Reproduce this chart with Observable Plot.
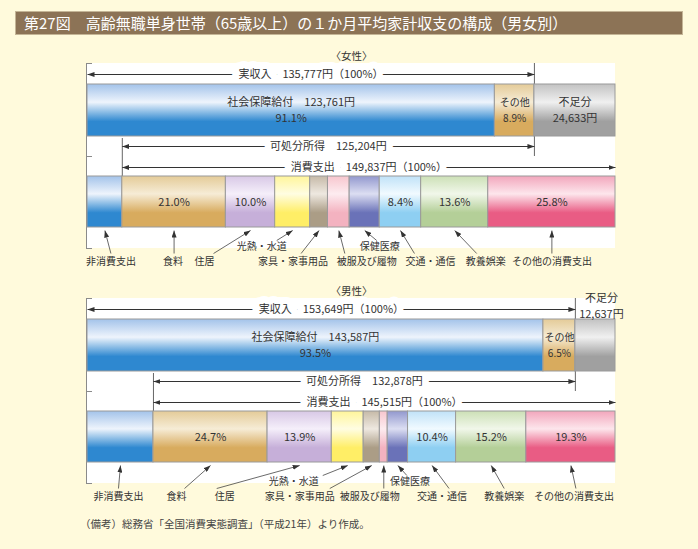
<!DOCTYPE html>
<html><head><meta charset="utf-8">
<script src="https://cdn.jsdelivr.net/npm/d3@7"></script>
<script src="https://cdn.jsdelivr.net/npm/@observablehq/plot@0.6"></script>
<style>
html,body{margin:0;padding:0;}
body{background:#fffadc;width:698px;height:549px;position:relative;overflow:hidden;font-family:"Noto Sans CJK JP","Noto Sans",sans-serif;color:#333;}
#title{position:absolute;left:15px;top:11px;width:668px;height:24px;background:#8c7356;border:1px solid #c4b596;box-sizing:border-box;color:#fff;font-size:15px;line-height:22px;padding-left:8px;white-space:nowrap;}
.chart{position:absolute;left:0;}
#female{top:48px;}
#male{top:283px;}
#note{position:absolute;left:80px;top:516px;font-size:10.5px;color:#444;white-space:nowrap;}
</style></head><body>
<svg width="0" height="0" style="position:absolute"><defs id="defs">
<marker id="tri" viewBox="0 0 7 5" refX="7" refY="2.5" markerWidth="7" markerHeight="5" markerUnits="userSpaceOnUse" orient="auto"><path d="M0,0L7,2.5L0,5z" fill="#333"/></marker>
</defs></svg>
<div id="title">第27図　高齢無職単身世帯（65歳以上）の１か月平均家計収支の構成（男女別）</div>
<div id="female" class="chart"></div>
<div id="male" class="chart"></div>
<div id="note">（備考）総務省「全国消費実態調査」（平成21年）より作成。</div>
<script>
// ---------- data ----------
const genderTitles = ["〈女性〉", "〈男性〉"];
const incomeSources = ["社会保障給付", "その他"];
const femaleIncomeValues = [123761, 12016];
const maleIncomeValues = [143587, 10062];
const femaleIncomePct = ["91.1%", "8.9%"];
const maleIncomePct = ["93.5%", "6.5%"];
const femaleIncome = 135777, maleIncome = 153649;
const femaleDeficit = 24633, maleDeficit = 12637;
const femaleDisposable = 125204, maleDisposable = 132878;
const femaleConsumption = 149837, maleConsumption = 145515;
const expenseCategories = ["食料", "住居", "光熱・水道", "家具・家事用品", "被服及び履物", "保健医療", "交通・通信", "教養娯楽", "その他の消費支出"];
const femaleExpensePct = [21.0, 10.0, 7.1, 3.6, 4.4, 6.1, 8.4, 13.6, 25.8];
const maleExpensePct = [24.7, 13.9, 6.9, 3.5, 1.7, 4.4, 10.4, 15.2, 19.3];
const femaleExpenseLabels = ["21.0%", "10.0%", "", "", "", "", "8.4%", "13.6%", "25.8%"];
const maleExpenseLabels = ["24.7%", "13.9%", "", "", "", "", "10.4%", "15.2%", "19.3%"];

// ---------- styling / layout ----------
const palette = {
  blue: ["#a3c3ea", "#eef4fc", "#2e88d0"],
  tan: ["#e4cb98", "#f6ecd6", "#d8ab5e"],
  gray: ["#c2c2c2", "#f0f0f0", "#a0a0a0"],
  purple: ["#d8c8e6", "#f5effa", "#c6afd9"],
  yellow: ["#fff59a", "#fffde2", "#ffee66"],
  khaki: ["#c6baa8", "#eee8e0", "#ab9d86"],
  lpink: ["#f7c6ce", "#fdecf0", "#f3b2c0"],
  indigo: ["#9298ce", "#dcdef2", "#6a72b8"],
  lblue: ["#c0e2f8", "#f1faff", "#8ecff2"],
  green: ["#cce0b6", "#f1f7ea", "#b4cf98"],
  pink: ["#f2a6bc", "#fde6ec", "#e95c84"]
};
const incomeGrads = ["blue", "tan"];
const expenseGrads = ["tan", "purple", "yellow", "khaki", "lpink", "indigo", "lblue", "green", "pink"];
const defs = d3.select("#defs");
for (const [id, [t, l, b]] of Object.entries(palette)) {
  const g = defs.append("linearGradient").attr("id", "g-" + id).attr("x1", 0).attr("y1", 0).attr("x2", 0).attr("y2", 1);
  [[0, t], [0.35, l], [0.72, b], [1, b]].forEach(([o, c]) => g.append("stop").attr("offset", o).attr("stop-color", c));
}

const W = 698, H = 230, ML = 87, MR = 83;
const L = {title: 8, panelTop: 15, incomeY: 26, top0: 36, top1: 88, dispY: 98, midTick: 108, consY: 119,
           bot0: 128, bot1: 179, panelBottom: 200, tipY: 182, row1: 198, row2: 213};
// label rows & pixel offsets for the category call-outs (非消費支出 + 9 categories)
const labelRow = [2, 2, 2, 1, 2, 2, 1, 2, 2, 2];
const femaleLabelDx = [6, -1, -46, -31, -26, 28, 15, 30, 31, 0];
const femaleTailDx = [0, 1, 9, 15, 8, -22, -3, -16, -9, 0];
const maleLabelDx = [-2, -34, -75, -54, -72, -14, 12, 10, 13, 3];
const maleTailDx = [0, 8, -8, 29, 30, 14, -3, 7, 0, 2];

const fmt = d3.format(",");

function chart(g) {
  const nonCons = g.income - g.disposable;
  const total = nonCons + g.consumption;
  const ppu = (W - ML - MR) / total;
  const u = p => p / ppu;
  let acc = 0;
  const top = g.incomeValues.map((v, i) => ({name: incomeSources[i], x1: acc, x2: (acc += v), grad: incomeGrads[i], pct: g.incomePct[i]}));
  top.push({name: "不足分", x1: acc, x2: acc + g.deficit, grad: "gray", deficit: true});
  top.forEach(d => {
    d.mid = (d.x1 + d.x2) / 2;
    d.line1 = d.deficit ? "不足分" : d.name === "社会保障給付" ? `${d.name}　${fmt(d.x2 - d.x1)}円` : d.name;
    d.line2 = d.deficit ? `${fmt(d.x2 - d.x1)}円` : d.pct;
    d.fs = (d.x2 - d.x1) * ppu < 40 ? 10 : 11;
  });
  acc = nonCons;
  const bot = [{name: "非消費支出", x1: 0, x2: nonCons, grad: "blue", label: ""}].concat(
    expenseCategories.map((c, i) => {
      const v = g.consumption * g.pct[i] / 100;
      return {name: c, x1: acc, x2: (acc += v), grad: expenseGrads[i], label: g.pctLabels[i]};
    }));
  bot.forEach((d, i) => {
    d.mid = (d.x1 + d.x2) / 2;
    d.lx = d.mid + u(g.labelDx[i]);
    d.tx = d.lx + u(g.tailDx[i]);
    d.ly = labelRow[i] === 1 ? L.row1 : L.row2;
    d.ty = d.ly - (labelRow[i] === 1 ? 6 : 8);
  });
  const dims = [
    {a: 0, b: g.income, y: L.incomeY, text: `実収入　${fmt(g.income)}円（100%）`},
    {a: nonCons, b: g.income, y: L.dispY, text: `可処分所得　${fmt(g.disposable)}円`},
    {a: nonCons, b: total, y: L.consY, text: `消費支出　${fmt(g.consumption)}円（100%）`}
  ];
  const dimLinks = dims.flatMap(d => [{x1: (d.a + d.b) / 2, x2: d.a, y: d.y}, {x1: (d.a + d.b) / 2, x2: d.b, y: d.y}]);
  const inside = top.filter(d => !(d.deficit && g.deficitOutside));
  const outside = top.filter(d => d.deficit && g.deficitOutside);
  const midTop = (L.top0 + L.top1) / 2;

  const svg = Plot.plot({
    width: W, height: H, marginLeft: ML, marginRight: MR, marginTop: 0, marginBottom: 0,
    x: {domain: [0, total], axis: null},
    y: {domain: [0, H], range: [0, H], axis: null},
    color: {type: "identity"},
    style: {fontFamily: '"Noto Sans CJK JP", "Noto Sans", sans-serif', fontSize: "11px", color: "#333", background: "none", overflow: "visible"},
    marks: [
      Plot.text([g.title], {x: total / 2, y: L.title, text: d => d, fontSize: 10.5}),
      Plot.rect([0], {x1: 0, x2: total, y1: L.panelTop, y2: L.panelBottom, fill: "white", insetLeft: -1}),
      Plot.ruleX([0], {y1: L.panelTop, y2: L.panelBottom, dx: -1, stroke: "#8a8a8a"}),
      Plot.ruleY([L.panelTop, L.midTick, L.panelBottom], {x1: 0, x2: 0, insetRight: -6, dx: -1, stroke: "#8a8a8a"}),
      Plot.ruleX([g.income], {y1: L.panelTop, y2: L.midTick, stroke: "#666"}),
      Plot.ruleX([nonCons], {y1: L.dispY - 8, y2: L.bot0, stroke: "#666"}),
      Plot.link(dimLinks, {x1: "x1", x2: "x2", y1: "y", y2: "y", stroke: "#333", strokeWidth: 1}),
      Plot.text(dims, {x: d => (d.a + d.b) / 2, y: "y", text: "text", fill: "#333", stroke: "white", strokeWidth: 14}),
      Plot.rect(top, {x1: "x1", x2: "x2", y1: L.top0, y2: L.top1, fill: d => `url(#g-${d.grad})`, stroke: "#9a9a9a", strokeWidth: 1}),
      Plot.rect(bot, {x1: "x1", x2: "x2", y1: L.bot0, y2: L.bot1, fill: d => `url(#g-${d.grad})`, stroke: "#9a9a9a", strokeWidth: 1}),
      Plot.text(inside, {x: "mid", y: midTop, dy: -8, text: "line1", fill: "#333", fontSize: "fs"}),
      Plot.text(inside, {x: "mid", y: midTop, dy: 8, text: "line2", fill: "#333", fontSize: "fs"}),
      Plot.text(outside, {x: d => d.mid + u(6), y: L.incomeY - 3, dy: -8, text: "line1", fill: "#333"}),
      Plot.text(outside, {x: d => d.mid + u(6), y: L.incomeY - 3, dy: 8, text: "line2", fill: "#333"}),
      Plot.text(bot.filter(d => d.label), {x: "mid", y: (L.bot0 + L.bot1) / 2, text: "label", fill: "#333"}),
      Plot.link(bot, {x1: "tx", y1: "ty", x2: "mid", y2: L.tipY, stroke: "#444", strokeWidth: 0.8}),
      Plot.text(bot, {x: "lx", y: "ly", text: "name", fontSize: 10, fill: "#333"})
    ]
  });
  d3.select(svg).selectAll('g[aria-label="link"] path').attr("marker-end", "url(#tri)");
  return svg;
}

document.getElementById("female").append(chart({
  title: genderTitles[0], income: femaleIncome, incomeValues: femaleIncomeValues, incomePct: femaleIncomePct,
  deficit: femaleDeficit, disposable: femaleDisposable, consumption: femaleConsumption,
  pct: femaleExpensePct, pctLabels: femaleExpenseLabels, labelDx: femaleLabelDx, tailDx: femaleTailDx, deficitOutside: false
}));
document.getElementById("male").append(chart({
  title: genderTitles[1], income: maleIncome, incomeValues: maleIncomeValues, incomePct: maleIncomePct,
  deficit: maleDeficit, disposable: maleDisposable, consumption: maleConsumption,
  pct: maleExpensePct, pctLabels: maleExpenseLabels, labelDx: maleLabelDx, tailDx: maleTailDx, deficitOutside: true
}));
</script>
</body></html>
